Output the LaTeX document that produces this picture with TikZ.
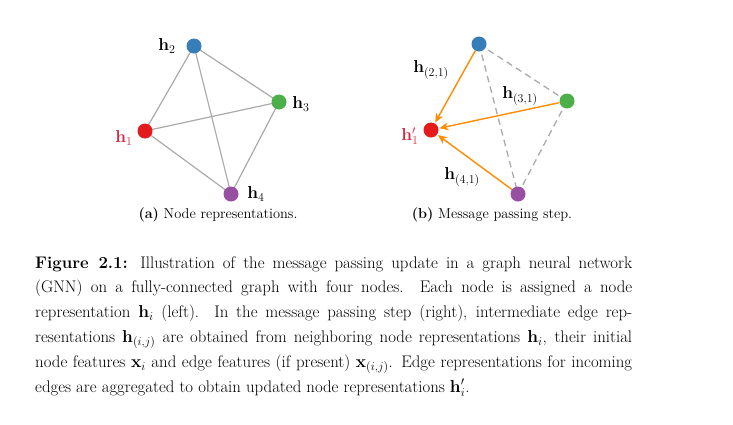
\documentclass[tikz,border=0pt]{standalone}
\usetikzlibrary{arrows.meta,backgrounds}
\definecolor{cred}{HTML}{E41A1C}
\definecolor{cblue}{HTML}{377EB8}
\definecolor{cgreen}{HTML}{4DAF4A}
\definecolor{cpurple}{HTML}{984EA3}
\definecolor{corange}{HTML}{FF8C00}
\definecolor{cedge}{RGB}{170,170,170}
\definecolor{clab}{RGB}{214,40,64}
\begin{document}
\begin{tikzpicture}[x=1pt,y=-1pt,
  dot/.style={circle,inner sep=0pt,minimum size=15pt},
  lab/.style={inner sep=0pt,font=\fontsize{18}{21}\selectfont},
  elab/.style={inner sep=0pt,font=\fontsize{18}{21}\selectfont},
  edge/.style={draw=cedge,line width=1.2pt},
  dedge/.style={draw=cedge,line width=1.3pt,dash pattern=on 6.5pt off 4.5pt},
  msg/.style={draw=corange,line width=1.4pt,-{Stealth[length=9pt,width=8pt]},shorten >=1pt},
  sub/.style={inner sep=0pt,font=\fontsize{14.4}{17}\selectfont},
  capline/.style={anchor=base west,inner sep=0pt,font=\fontsize{16.8}{20}\selectfont}]
\useasboundingbox (0,0) rectangle (733,424);
% left graph
\node[dot,fill=cblue] (a2) at (194,46) {};
\node[dot,fill=cgreen] (a3) at (279,102) {};
\node[dot,fill=cred] (a1) at (145,131) {};
\node[dot,fill=cpurple] (a4) at (231,194) {};
\begin{scope}[on background layer]
\path[edge] (a1.center) -- (a2.center) (a1.center) -- (a3.center) (a1.center) -- (a4.center)
  (a2.center) -- (a3.center) (a2.center) -- (a4.center) (a3.center) -- (a4.center);
\end{scope}
\node[lab] (la2) at (167,46) {$\mathbf{h}_2$};
\node[lab] (la3) at (301,104) {$\mathbf{h}_3$};
\node[lab,text=clab] (la1) at (124,138) {$\mathbf{h}_1$};
\node[lab] (la4) at (256,194) {$\mathbf{h}_4$};
\node[sub] (suba) at (218,215) {\textbf{(a)} Node representations.};
% right graph
\node[dot,fill=cblue] (b2) at (479,44) {};
\node[dot,fill=cgreen] (b3) at (567,101) {};
\node[dot,fill=cred] (b1) at (431,130) {};
\node[dot,fill=cpurple] (b4) at (518,194) {};
\begin{scope}[on background layer]
\path[dedge] (b2.center) -- (b3.center) (b2.center) -- (b4.center) (b3.center) -- (b4.center);
\end{scope}
\draw[msg] (b2) -- (b1);
\draw[msg] (b3) -- (b1);
\draw[msg] (b4) -- (b1);
\node[lab,text=clab] (lb1) at (410,136) {$\mathbf{h}'_1$};
\node[elab] (l21) at (431,70) {$\mathbf{h}_{(2,1)}$};
\node[elab] (l31) at (520,96) {$\mathbf{h}_{(3,1)}$};
\node[elab] (l41) at (462,177) {$\mathbf{h}_{(4,1)}$};
\node[sub] (subb) at (492,215) {\textbf{(b)} Message passing step.};
% caption
\node[capline] (c1) at (35,268) {\makebox[597pt][s]{\textbf{Figure 2.1:} Illustration of the message passing update in a graph neural network}};
\node[capline] (c2) at (35,292.5) {\makebox[597pt][s]{(GNN) on a fully-connected graph with four nodes. Each node is assigned a node}};
\node[capline] (c3) at (35,317.5) {\makebox[597pt][s]{representation $\mathbf{h}_i$ (left). In the message passing step (right), intermediate edge rep-}};
\node[capline] (c4) at (35,342.5) {\makebox[597pt][s]{resentations $\mathbf{h}_{(i,j)}$ are obtained from neighboring node representations $\mathbf{h}_i$, their initial}};
\node[capline] (c5) at (35,367.5) {\makebox[597pt][s]{node features $\mathbf{x}_i$ and edge features (if present) $\mathbf{x}_{(i,j)}$. Edge representations for incoming}};
\node[capline] (c6) at (35,392) {edges are aggregated to obtain updated node representations $\mathbf{h}'_i$.};
\end{tikzpicture}
\end{document}
